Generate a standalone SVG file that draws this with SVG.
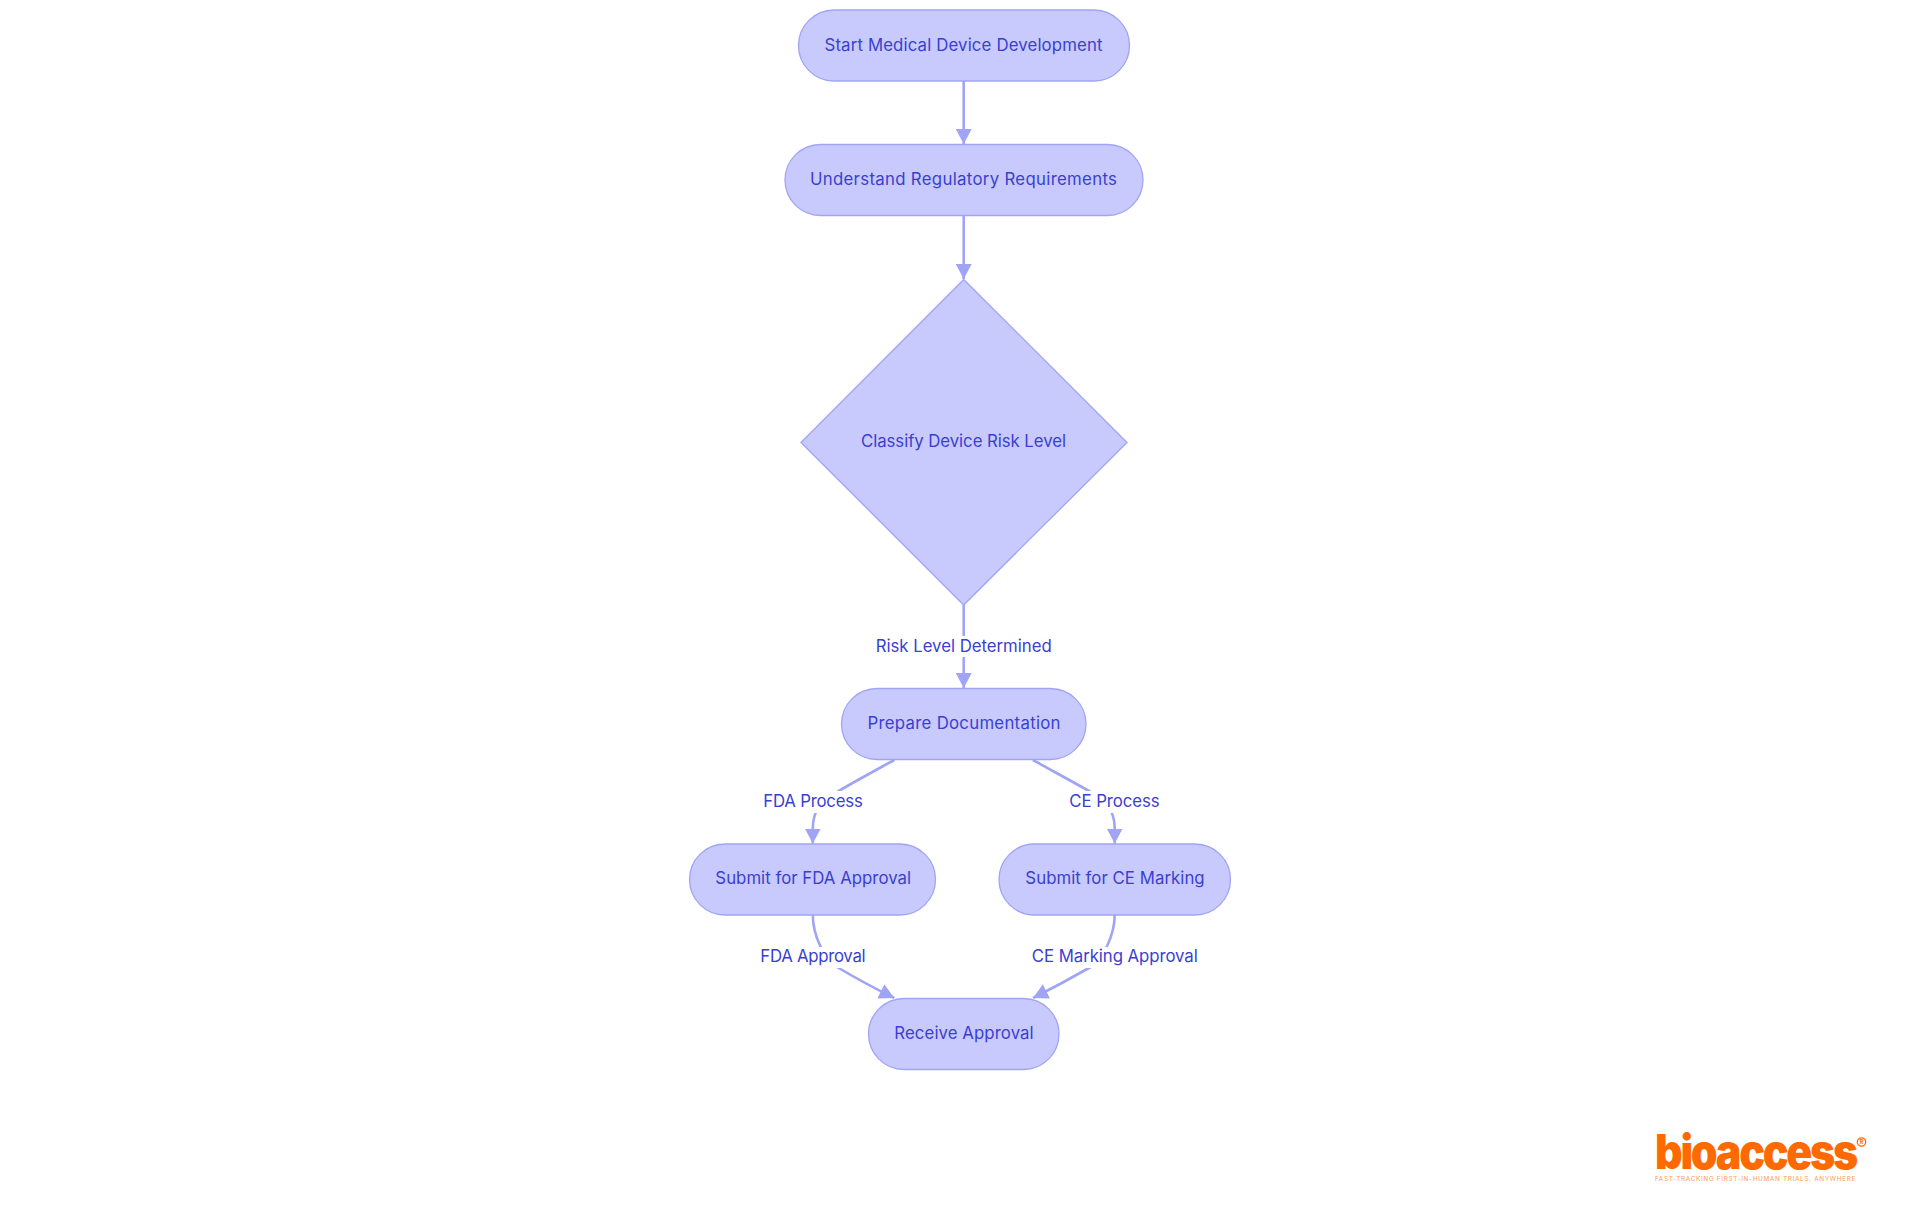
<svg xmlns="http://www.w3.org/2000/svg" width="1920" height="1215" viewBox="0 0 1920 1215">
<style>
text{font-family:"Inter","Noto Sans","Liberation Sans",sans-serif;font-size:16.8px;fill:#3a3fd1;text-anchor:middle}
.n{fill:#c8cafd;stroke:#a0a4f5;stroke-width:1.3}
.e{fill:none;stroke:#a0a4f5;stroke-width:2.6}
.b{fill:#fff;stroke:none}
</style>
<defs><marker id="a" viewBox="0 0 15 16" refX="15" refY="8" markerUnits="userSpaceOnUse" markerWidth="15" markerHeight="16" orient="auto"><path d="M0,0L15,8L0,16z" fill="#a0a4f5"/></marker></defs>
<rect width="1920" height="1215" fill="#fff"/>
<g id="connectors">
<path class="e" marker-end="url(#a)" d="M963.7,81V144"/>
<path class="e" marker-end="url(#a)" d="M963.7,216V279"/>
<path class="e" marker-end="url(#a)" d="M963.7,605V688"/>
<path class="e" marker-end="url(#a)" d="M894.3,760C878,769 852,783 837,792C824,800 812.8,808 812.8,828V843.5"/>
<path class="e" marker-end="url(#a)" d="M1032.9,760C1049,769 1075,783 1090.7,792C1103,800 1114.7,808 1114.7,828V843.5"/>
<path class="e" marker-end="url(#a)" d="M812.8,915C812.8,935 824,959 837,967C852,976 874,988 894.3,998"/>
<path class="e" marker-end="url(#a)" d="M1114.7,915C1114.7,935 1103,959 1090.7,967C1075,976 1053,988 1033,998"/>
<g id="edge-labels">
<g><rect class="b" x="875" y="636" width="177" height="21"/><text x="963.7" y="652" textLength="176">Risk Level Determined</text></g>
<g><rect class="b" x="763" y="791" width="100" height="22"/><text x="813" y="806.5" textLength="99.6">FDA Process</text></g>
<g><rect class="b" x="1069" y="791" width="91" height="22"/><text x="1114.5" y="806.5" textLength="90.4">CE Process</text></g>
<g><rect class="b" x="760" y="947" width="106" height="21"/><text x="813" y="961.5" textLength="105.3">FDA Approval</text></g>
<g><rect class="b" x="1031.5" y="947" width="167" height="21"/><text x="1114.8" y="961.5" textLength="166">CE Marking Approval</text></g>
</g>
</g>
<g id="n1"><rect class="n" x="798.5" y="10" width="331" height="71" rx="35.5"/><text x="963.5" y="50.5" textLength="278">Start Medical Device Development</text></g>
<g id="n2"><rect class="n" x="785" y="144.5" width="358" height="71" rx="35.5"/><text x="963.4" y="184.5" textLength="307">Understand Regulatory Requirements</text></g>
<g id="n3"><polygon class="n" points="963.7,279.5 1127,442.5 963.7,605 801,442.5"/><text x="963.5" y="447" textLength="205">Classify Device Risk Level</text></g>
<g id="n4"><rect class="n" x="841.5" y="688.5" width="244.5" height="71" rx="35.5"/><text x="964" y="728.5" textLength="193">Prepare Documentation</text></g>
<g id="n5"><rect class="n" x="689.5" y="844" width="246" height="71" rx="35.5"/><text x="813.2" y="883.5" textLength="195.7">Submit for FDA Approval</text></g>
<g id="n6"><rect class="n" x="999" y="844" width="231.5" height="71" rx="35.5"/><text x="1115" y="883.5" textLength="179.3">Submit for CE Marking</text></g>
<g id="n7"><rect class="n" x="868.5" y="998.5" width="190.5" height="71" rx="35.5"/><text x="964" y="1038.5" textLength="139.3">Receive Approval</text></g>
<g id="logo">
<text x="1755.5" y="1169" textLength="201" lengthAdjust="spacingAndGlyphs" style="font-size:48px;font-weight:900;letter-spacing:-2.5px;fill:#ff6a00">bioaccess</text>
<circle cx="1861.5" cy="1142" r="4.2" fill="none" stroke="#ff6a00" stroke-width="1.3"/>
<text x="1861.5" y="1144" style="font-size:5.5px;font-weight:700;fill:#ff6a00">R</text>
<text x="1755.5" y="1180.5" textLength="201" lengthAdjust="spacingAndGlyphs" style="font-size:5.5px;fill:#ff9a55;letter-spacing:.6px">FAST-TRACKING FIRST-IN-HUMAN TRIALS, ANYWHERE</text>
</g>
</svg>
